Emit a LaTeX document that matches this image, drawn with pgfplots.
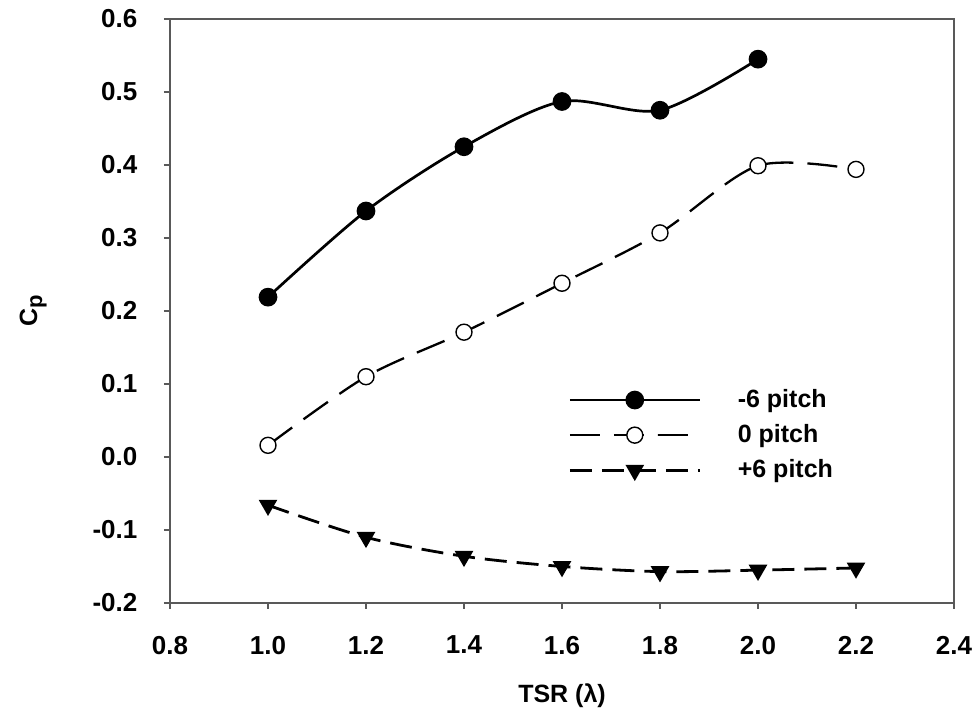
\documentclass[border=0pt]{standalone}
\usepackage{pgfplots}
\pgfplotsset{compat=1.18}
\usepackage{fontspec}
\setmainfont{Liberation Sans}
\begin{document}
\begin{tikzpicture}
\begin{axis}[
  scale only axis,
  width=392pt, height=292pt,
  xmin=0.8, xmax=2.4, ymin=-0.2, ymax=0.6,
  xtick={0.8,1.0,...,2.4}, ytick={-0.2,-0.1,...,0.6},
  xtick pos=left, ytick pos=left,
  tick align=outside, major tick length=3pt,
  axis line style={draw=black!65, line width=0.7pt},
  every tick/.style={black!65, line width=0.6pt},
  /pgf/number format/assume math mode=true,
  /pgf/number format/fixed, /pgf/number format/fixed zerofill, /pgf/number format/precision=1,
  tick label style={font=\fontsize{13}{15}\selectfont\bfseries},
  xticklabel style={yshift=-10pt},
  yticklabel style={xshift=-9.8pt},
  xlabel={TSR (λ)}, ylabel={C{\fontsize{11}{12}\selectfont\raisebox{-0.45ex}{p}}},
  label style={font=\fontsize{12.5}{14}\selectfont\bfseries},
  xlabel style={yshift=-8pt},
  ylabel style={yshift=16pt},
  legend style={draw=none, fill=none, at={(0.5,0.38)}, anchor=north west,
    font=\fontsize{12.5}{14}\selectfont\bfseries, row sep=3pt},
  legend cell align=left,
  legend image code/.code={\path[draw=none,fill=none] (0pt,-0.1pt) rectangle (82pt,0.1pt);\draw[mark repeat=2,mark phase=2,#1] plot coordinates {(0pt,0pt)(32.5pt,0pt)(65pt,0pt)};},
]
\addplot[black, line width=1.35pt, smooth, mark=*, mark size=4pt, mark options={solid, fill=black}]
coordinates {(1.0,0.219) (1.2,0.337) (1.4,0.425) (1.6,0.487) (1.8,0.475) (2.0,0.545)};
\addlegendentry{-6 pitch}
\addplot[black, line width=1.15pt, smooth, dash pattern=on 15pt off 7pt, mark=*, mark size=4pt, mark options={solid, fill=white, draw=black, line width=0.7pt}]
coordinates {(1.0,0.016) (1.2,0.110) (1.4,0.171) (1.6,0.238) (1.8,0.307) (2.0,0.399) (2.2,0.394)};
\addlegendentry{0 pitch}
\addplot[black, line width=1.4pt, smooth, dash pattern=on 11pt off 5pt, mark=triangle*, mark size=4pt, mark options={solid, fill=black, rotate=180}]
coordinates {(1.0,-0.066) (1.2,-0.110) (1.4,-0.136) (1.6,-0.150) (1.8,-0.157) (2.0,-0.155) (2.2,-0.152)};
\addlegendentry{+6 pitch}
\end{axis}
\pgfresetboundingbox
\path ([shift={(-85pt,-56pt)}]current axis.south west) rectangle ([shift={(12.5pt,9.5pt)}]current axis.north east);
\end{tikzpicture}
\end{document}
